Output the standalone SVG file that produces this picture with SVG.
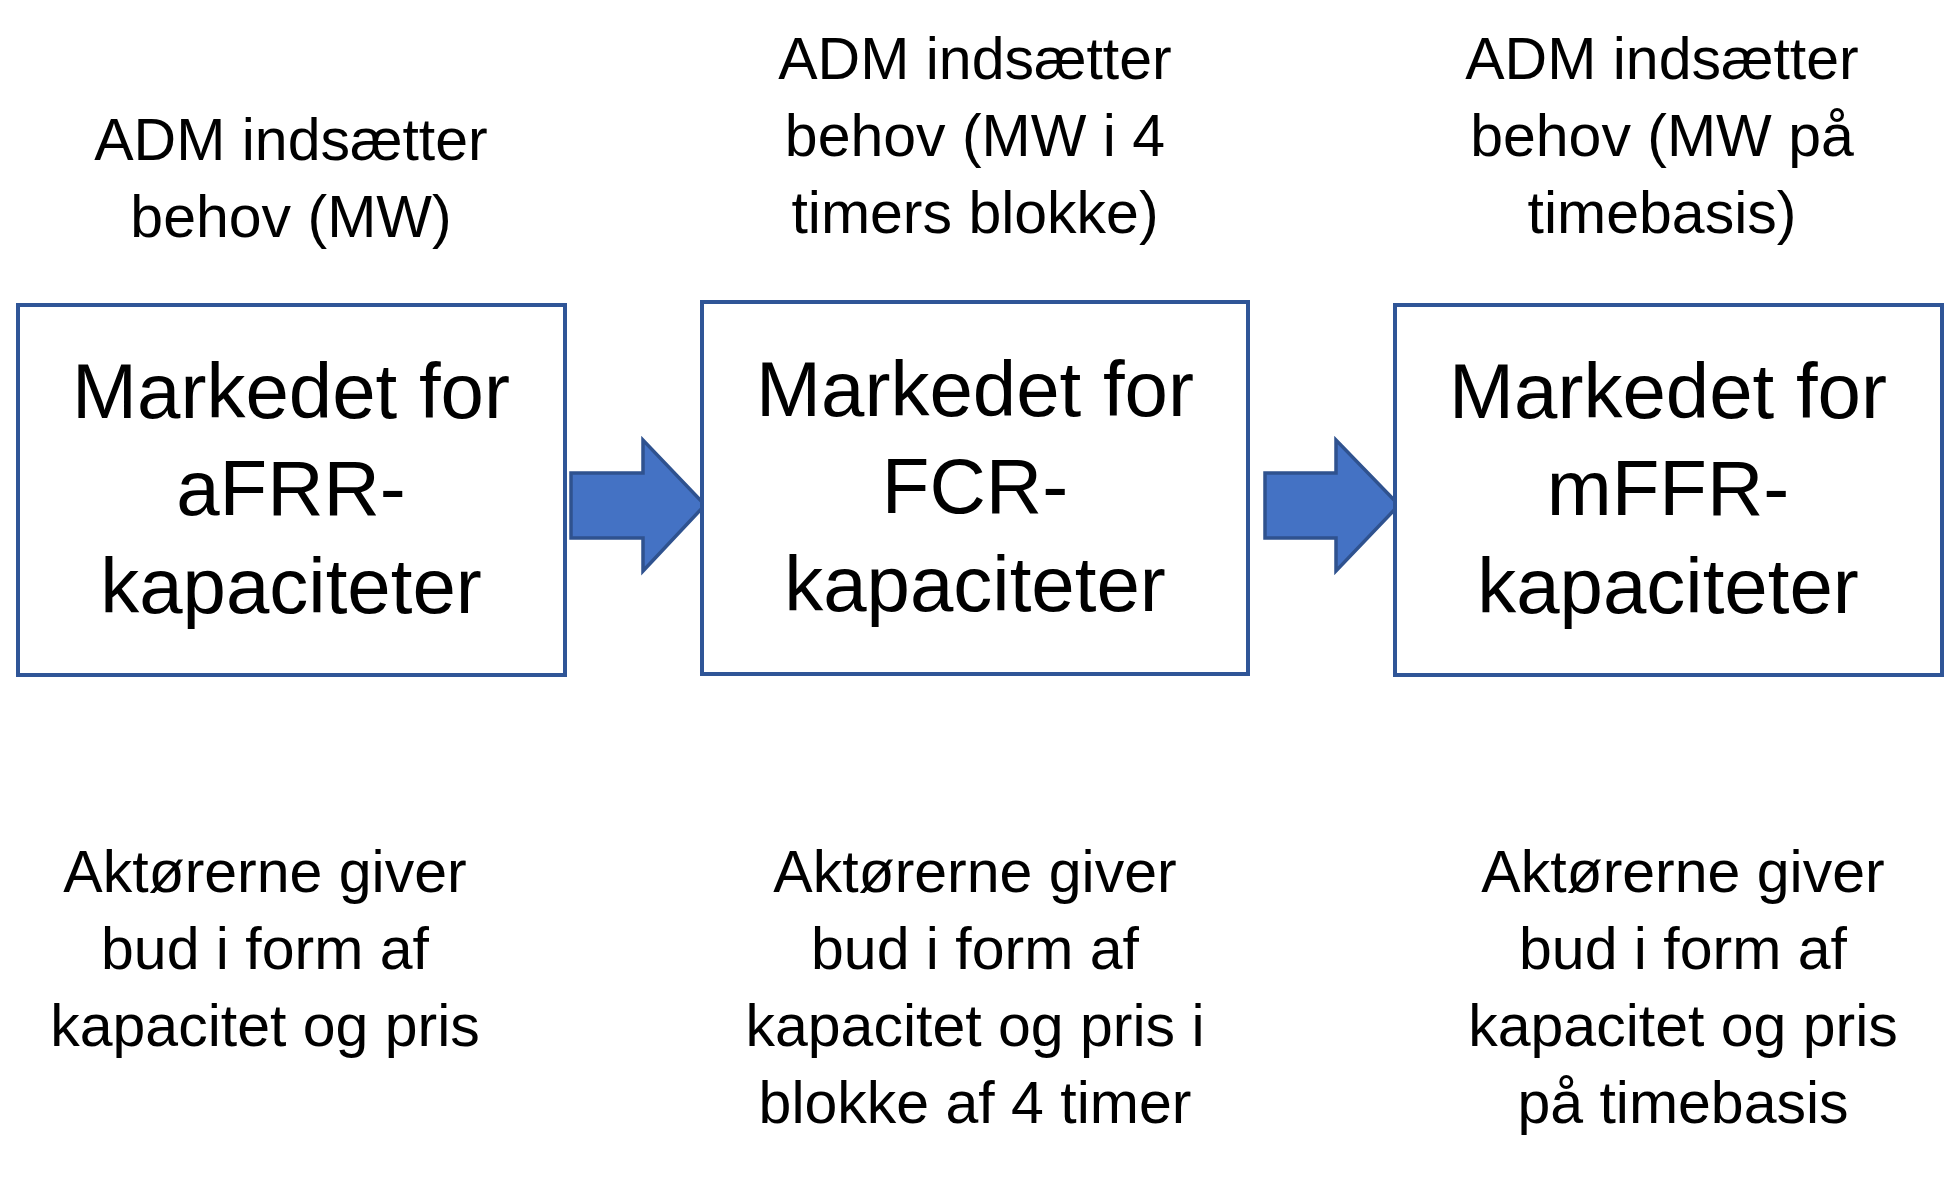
<svg xmlns="http://www.w3.org/2000/svg" width="1957" height="1180" viewBox="0 0 1957 1180">
<style>
.box{fill:#ffffff;stroke:#2F5597;stroke-width:4}
.arrow{fill:#4472C4;stroke:#2F528F;stroke-width:3.5;stroke-linejoin:miter}
.big{font-family:"Liberation Sans",Arial,sans-serif;font-size:78px;fill:#000;text-anchor:middle}
.lbl{font-family:"Liberation Sans",Arial,sans-serif;font-size:59px;fill:#000;text-anchor:middle}
</style>
<rect width="1957" height="1180" fill="#ffffff"/>
<g id="connectors">
<polygon class="arrow" points="571,473 643,473 643,440 705,505 643,571 643,538 571,538"/>
<polygon class="arrow" points="1265,473 1336,473 1336,440 1399,505 1336,571 1336,538 1265,538"/>
</g>
<g id="node-afrr">
<rect class="box" x="18" y="305" width="547" height="370"/>
<text class="big" x="291" y="418">Markedet for</text>
<text class="big" x="291" y="515">aFRR-</text>
<text class="big" x="291" y="613">kapaciteter</text>
</g>
<g id="node-fcr">
<rect class="box" x="702" y="302" width="546" height="372"/>
<text class="big" x="975" y="416">Markedet for</text>
<text class="big" x="975" y="513">FCR-</text>
<text class="big" x="975" y="611">kapaciteter</text>
</g>
<g id="node-mffr">
<rect class="box" x="1395" y="305" width="547" height="370"/>
<text class="big" x="1668" y="418">Markedet for</text>
<text class="big" x="1668" y="515">mFFR-</text>
<text class="big" x="1668" y="613">kapaciteter</text>
</g>
<g id="label-top-1">
<text class="lbl" x="291" y="160">ADM indsætter</text>
<text class="lbl" x="291" y="237">behov (MW)</text>
</g>
<g id="label-top-2">
<text class="lbl" x="975" y="79">ADM indsætter</text>
<text class="lbl" x="975" y="156">behov (MW i 4</text>
<text class="lbl" x="975" y="233">timers blokke)</text>
</g>
<g id="label-top-3">
<text class="lbl" x="1662" y="79">ADM indsætter</text>
<text class="lbl" x="1662" y="156">behov (MW på</text>
<text class="lbl" x="1662" y="233">timebasis)</text>
</g>
<g id="label-bottom-1">
<text class="lbl" x="265" y="892">Aktørerne giver</text>
<text class="lbl" x="265" y="969">bud i form af</text>
<text class="lbl" x="265" y="1046">kapacitet og pris</text>
</g>
<g id="label-bottom-2">
<text class="lbl" x="975" y="892">Aktørerne giver</text>
<text class="lbl" x="975" y="969">bud i form af</text>
<text class="lbl" x="975" y="1046">kapacitet og pris i</text>
<text class="lbl" x="975" y="1123">blokke af 4 timer</text>
</g>
<g id="label-bottom-3">
<text class="lbl" x="1683" y="892">Aktørerne giver</text>
<text class="lbl" x="1683" y="969">bud i form af</text>
<text class="lbl" x="1683" y="1046">kapacitet og pris</text>
<text class="lbl" x="1683" y="1123">på timebasis</text>
</g>
</svg>
